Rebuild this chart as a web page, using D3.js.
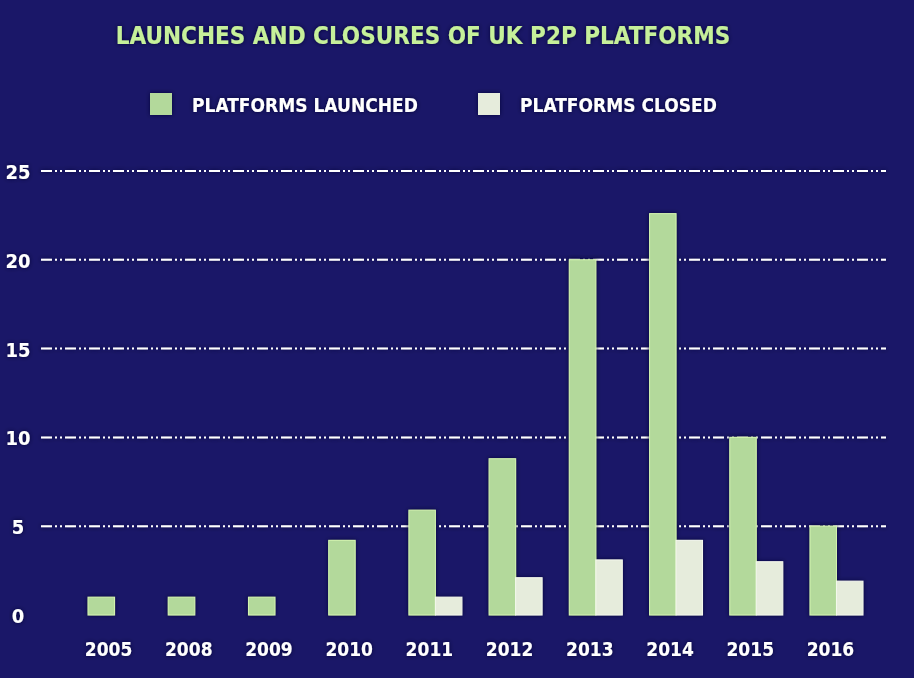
<!DOCTYPE html>
<html><head><meta charset="utf-8">
<script src="https://cdn.jsdelivr.net/npm/d3@7"></script>
<style>
body{margin:0;background:#1a1768;}
text{font-family:"DejaVu Sans Condensed","DejaVu Sans",sans-serif;font-weight:bold;}
</style></head><body>
<svg id="chart" width="914" height="678"></svg>
<script>
// data
const years = ["2005","2008","2009","2010","2011","2012","2013","2014","2015","2016"];
const launched = [1, 1, 1, 4.2, 5.9, 8.8, 20, 22.6, 10, 5];
const closed = [0, 0, 0, 0, 1, 2.1, 3.1, 4.2, 3, 1.9];
const yTicks = [0, 5, 10, 15, 20, 25];
const seriesNames = ["PLATFORMS LAUNCHED", "PLATFORMS CLOSED"];
const seriesColors = ["#b3d99b", "#e6ecdc"];

const svg = d3.select("#chart");
const defs = svg.append("defs");
const glow = defs.append("filter").attr("id", "glow").attr("x", "-20%").attr("y", "-20%").attr("width", "140%").attr("height", "140%");
glow.append("feDropShadow").attr("dx", 0).attr("dy", 0).attr("stdDeviation", 2).attr("flood-color", "#000030").attr("flood-opacity", 0.9);

const plotLeft = 41, plotRight = 886, plotTop = 171, plotBottom = 615;

let y = d3.scaleLinear().domain([0, 25]).range([plotBottom, plotTop]);
let x = d3.scaleBand().domain(years).range([64, 887]).paddingInner(0.34).paddingOuter(0.3);
let xs = d3.scaleBand().domain([0, 1]).range([0, x.bandwidth()]);

// title
svg.append("text").attr("x", 423).attr("y", 44).attr("text-anchor", "middle")
    .attr("fill", "#c6f09a").attr("font-size", 24).attr("filter", "url(#glow)")
    .text("LAUNCHES AND CLOSURES OF UK P2P PLATFORMS");

// legend
const lx = [150, 478];
seriesNames.forEach(function(name, i) {
    svg.append("rect").attr("x", lx[i]).attr("y", 93).attr("width", 22).attr("height", 22)
        .attr("fill", seriesColors[i]).attr("filter", "url(#glow)");
    svg.append("text").attr("x", lx[i] + 42).attr("y", 112).attr("fill", "#ffffff")
        .attr("font-size", 19).attr("font-weight", "normal").attr("filter", "url(#glow)").text(name);
});

// grid lines
let grid = svg.append("g").attr("filter", "url(#glow)");
grid.selectAll("line.grid").data(yTicks.filter(d => d > 0)).enter().append("line")
    .attr("x1", plotLeft).attr("x2", plotRight)
    .attr("y1", d => y(d)).attr("y2", d => y(d))
    .attr("stroke", "#ffffff").attr("stroke-width", 2)
    .attr("stroke-dasharray", "11,3,2,3,2,3");

// y tick labels
svg.selectAll("text.ytick").data(yTicks).enter().append("text")
    .attr("x", 18).attr("y", d => y(d) + 8).attr("text-anchor", "middle")
    .attr("fill", "#ffffff").attr("font-size", 20).attr("filter", "url(#glow)")
    .text(d => d);

// bars
const bars = svg.append("g").attr("filter", "url(#glow)");
[launched, closed].forEach(function(vals, s) {
    bars.selectAll("rect.s" + s).data(years).enter().append("rect")
        .attr("x", d => x(d) + xs(s))
        .attr("width", xs.bandwidth())
        .attr("y", (d, i) => y(vals[i]))
        .attr("height", (d, i) => plotBottom - y(vals[i]))
        .attr("fill", seriesColors[s])
        .attr("stroke", s === 0 ? "#d4f5b0" : "#f4f8ee").attr("stroke-width", 1);
});

// axes lines
svg.append("line").attr("x1", plotLeft).attr("x2", plotLeft).attr("y1", plotTop).attr("y2", plotBottom)
    .attr("stroke", "#fff").attr("stroke-width", 2).attr("filter", "url(#glow)");
svg.append("line").attr("x1", plotLeft).attr("x2", plotRight).attr("y1", plotBottom).attr("y2", plotBottom)
    .attr("stroke", "#fff").attr("stroke-width", 2).attr("filter", "url(#glow)");

// x labels
svg.selectAll("text.xtick").data(years).enter().append("text")
    .attr("x", d => x(d) + x.bandwidth() / 2 - 6).attr("y", 656).attr("text-anchor", "middle")
    .attr("fill", "#ffffff").attr("font-size", 19).attr("filter", "url(#glow)")
    .text(d => d);
</script>
</body></html>
